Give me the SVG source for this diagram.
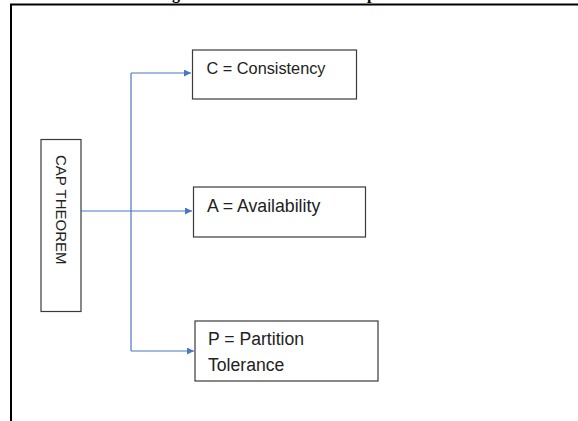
<svg xmlns="http://www.w3.org/2000/svg" width="578" height="421" viewBox="0 0 578 421">
  <defs>
    <style>
      .frame { stroke: #000; stroke-width: 2; fill: none; }
      .box { fill: #fff; stroke: #3a3a3a; stroke-width: 1.2; }
      .label { font-family: "Liberation Sans", Arial, sans-serif; fill: #222; }
      .caption { font-family: "Liberation Serif", "Times New Roman", serif; font-weight: bold; font-size: 16px; fill: #000; }
      .link { stroke: #4a76c4; stroke-width: 1.2; fill: none; }
    </style>
    <marker id="arrow" viewBox="0 0 10 10" refX="10" refY="5" markerWidth="7" markerHeight="7" markerUnits="userSpaceOnUse" orient="auto">
      <path d="M0,0 L10,5 L0,10 z" fill="#4a76c4"/>
    </marker>
  </defs>

  <rect width="578" height="421" fill="#fff"/>

  <!-- caption line above the table cell (only descenders fall inside the cell) -->
  <g id="caption">
    <text class="caption" x="172" y="-1.5">g</text>
    <text class="caption" x="367" y="-1.5">p</text>
  </g>

  <!-- table cell borders -->
  <g id="cell">
    <line class="frame" x1="10" y1="4.5" x2="578" y2="4.5"/>
    <line class="frame" x1="11" y1="4" x2="11" y2="421"/>
  </g>

  <!-- connectors -->
  <g id="connectors">
    <line class="link" x1="81" y1="211" x2="131" y2="211"/>
    <line class="link" x1="131" y1="73" x2="131" y2="351"/>
    <line class="link" x1="131" y1="73" x2="191" y2="73" marker-end="url(#arrow)"/>
    <line class="link" x1="131" y1="211" x2="192" y2="211" marker-end="url(#arrow)"/>
    <line class="link" x1="131" y1="351" x2="194" y2="351" marker-end="url(#arrow)"/>
  </g>

  <g id="cap-theorem">
    <rect class="box" x="41" y="139.5" width="40" height="172"/>
    <text class="label" font-size="15" transform="translate(55.5,155) rotate(90)">CAP THEOREM</text>
  </g>

  <g id="consistency">
    <rect class="box" x="192.5" y="50" width="164" height="49"/>
    <text class="label" font-size="16.3" x="206.5" y="74">C = Consistency</text>
  </g>

  <g id="availability">
    <rect class="box" x="193.5" y="187" width="172" height="50"/>
    <text class="label" font-size="17.7" x="207" y="212">A = Availability</text>
  </g>

  <g id="partition-tolerance">
    <rect class="box" x="195" y="321" width="183" height="60"/>
    <text class="label" font-size="17.6" x="208" y="345">P = Partition</text>
    <text class="label" font-size="17.6" x="208" y="371">Tolerance</text>
  </g>
</svg>
